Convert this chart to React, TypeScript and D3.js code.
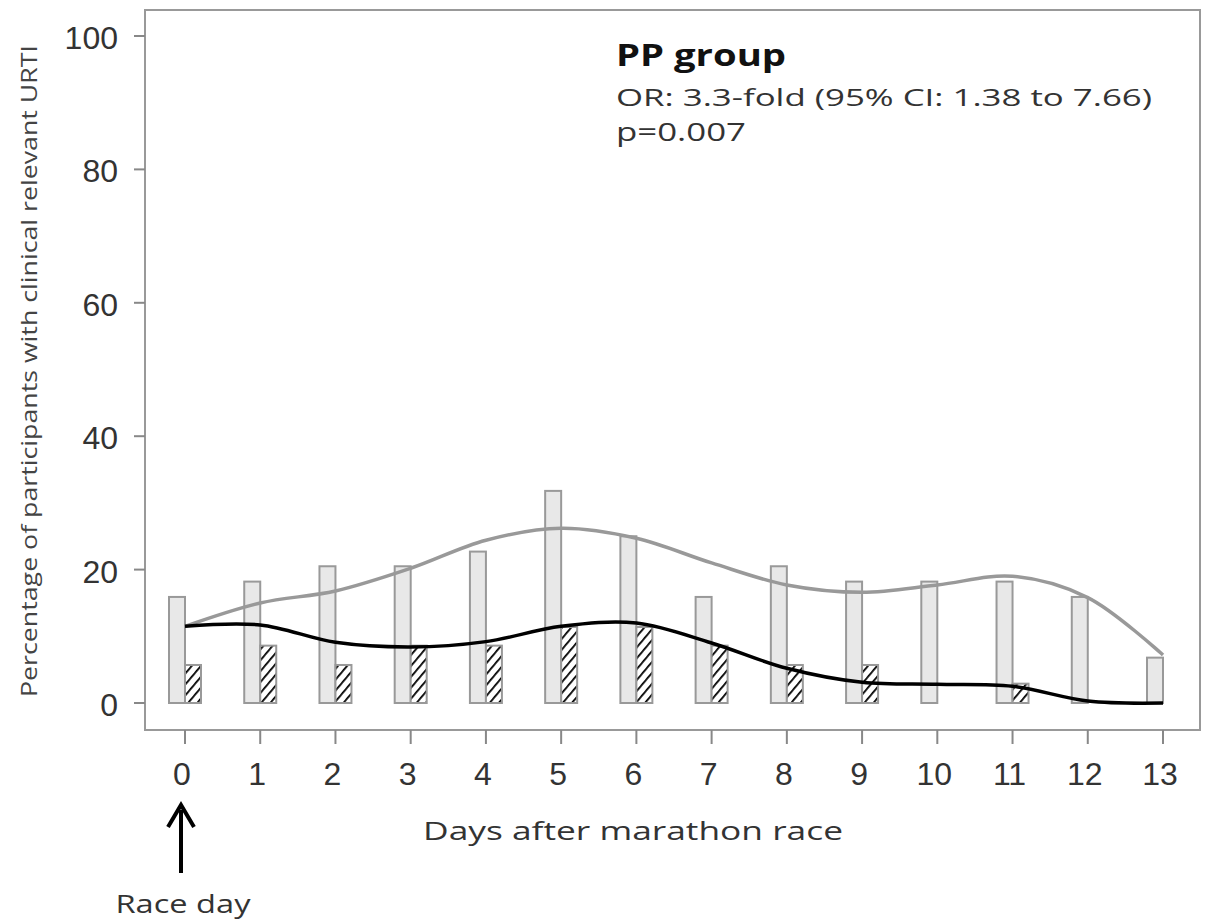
import React from "react";
import * as d3 from "d3";

const days = [0, 1, 2, 3, 4, 5, 6, 7, 8, 9, 10, 11, 12, 13];
const barsGrey = [15.9, 18.2, 20.5, 20.5, 22.7, 31.8, 25.0, 15.9, 20.5, 18.2, 18.2, 18.2, 15.9, 6.8];
const barsHatched: (number | null)[] = [5.7, 8.6, 5.7, 8.6, 8.6, 11.4, 11.4, 8.6, 5.7, 5.7, 0, 2.9, 0, null];
const lineGrey = [11.5, 15.0, 16.8, 20.2, 24.4, 26.2, 24.7, 21.0, 17.7, 16.6, 17.7, 19.0, 15.8, 7.2];
const lineBlack = [11.5, 11.7, 9.1, 8.4, 9.2, 11.5, 12.0, 9.0, 5.2, 3.1, 2.8, 2.5, 0.3, 0];
const yTicks = [0, 20, 40, 60, 80, 100];

export default function App() {
  const W = 1205, H = 921;
  const x = d3.scaleLinear().domain([0, 13]).range([185, 1163]);
  const y = d3.scaleLinear().domain([0, 100]).range([703, 36]);
  const bw = 16;
  const frame = { l: 145, t: 10, r: 1200, b: 730 };

  const lineGen = d3
    .line<number>()
    .x((_, i) => x(days[i]))
    .y((v) => y(v))
    .curve(d3.curveCatmullRom.alpha(0.5));

  return (
    <svg width={W} height={H} style={{ position: "absolute", left: 0, top: 0, background: "#fff" }}>
      <defs>
        <pattern id="hatch" patternUnits="userSpaceOnUse" width="7" height="7" patternTransform="rotate(40)">
          <rect width="7" height="7" fill="#fff" />
          <line x1="0" y1="0" x2="0" y2="7" stroke="#000" strokeWidth="3.6" />
        </pattern>
      </defs>
      <rect x={0} y={0} width={W} height={H} fill="#fff" />
      {/* frame */}
      <rect
        x={frame.l}
        y={frame.t}
        width={frame.r - frame.l}
        height={frame.b - frame.t}
        fill="none"
        stroke="#999"
        strokeWidth={2}
      />
      {/* y ticks */}
      {yTicks.map((t) => (
        <g key={"y" + t}>
          <line x1={134} x2={frame.l} y1={y(t)} y2={y(t)} stroke="#888" strokeWidth={2} />
          <text
            x={118}
            y={y(t) + 13}
            textAnchor="end"
            fontFamily="Liberation Sans, Arial, sans-serif"
            fontSize={32}
            fill="#333"
          >
            {t}
          </text>
        </g>
      ))}
      {/* x ticks */}
      {days.map((d) => (
        <g key={"x" + d}>
          <line x1={x(d)} x2={x(d)} y1={frame.b} y2={744} stroke="#888" strokeWidth={2} />
          <text
            x={x(d) - 3}
            y={785}
            textAnchor="middle"
            fontFamily="Liberation Sans, Arial, sans-serif"
            fontSize={32}
            fill="#333"
          >
            {d}
          </text>
        </g>
      ))}
      {/* grey bars */}
      {days.map((d, i) => (
        <rect
          key={"g" + d}
          x={x(d) - bw}
          y={y(barsGrey[i])}
          width={bw}
          height={y(0) - y(barsGrey[i])}
          fill="#e8e8e8"
          stroke="#999"
          strokeWidth={2}
        />
      ))}
      {/* hatched bars */}
      {days.map((d, i) => {
        const v = barsHatched[i];
        if (v === null) return null;
        return (
          <rect
            key={"h" + d}
            x={x(d)}
            y={y(v)}
            width={bw}
            height={y(0) - y(v)}
            fill="url(#hatch)"
            stroke="#999"
            strokeWidth={2}
          />
        );
      })}
      {/* lines */}
      <path d={lineGen(lineGrey) || ""} fill="none" stroke="#999" strokeWidth={3.5} />
      <path d={lineGen(lineBlack) || ""} fill="none" stroke="#000" strokeWidth={3.5} />
      {/* annotation */}
      <text
        x={616}
        y={66}
        fontFamily="Open Sans, sans-serif"
        fontWeight="bold"
        fontSize={30}
        fill="#111"
        textLength={170}
        lengthAdjust="spacingAndGlyphs"
      >
        PP group
      </text>
      <text
        x={616}
        y={106}
        fontFamily="Open Sans, sans-serif"
        fontSize={24}
        fill="#333"
        textLength={536}
        lengthAdjust="spacingAndGlyphs"
      >
        OR: 3.3-fold (95% CI: 1.38 to 7.66)
      </text>
      <text
        x={616}
        y={141}
        fontFamily="Open Sans, sans-serif"
        fontSize={25}
        fill="#333"
        textLength={130}
        lengthAdjust="spacingAndGlyphs"
      >
        p=0.007
      </text>
      {/* y title */}
      <text
        transform="translate(37,371) rotate(-90)"
        textAnchor="middle"
        fontFamily="Open Sans, sans-serif"
        fontSize={21}
        fill="#444"
        textLength={652}
        lengthAdjust="spacingAndGlyphs"
      >
        Percentage of participants with clinical relevant URTI
      </text>
      {/* x title */}
      <text
        x={633}
        y={840}
        textAnchor="middle"
        fontFamily="Open Sans, sans-serif"
        fontSize={25}
        fill="#333"
        textLength={420}
        lengthAdjust="spacingAndGlyphs"
      >
        Days after marathon race
      </text>
      {/* race day arrow */}
      <line x1={181} x2={181} y1={873} y2={810} stroke="#000" strokeWidth={4} />
      <path d="M168,827 L181,805 L194,827" fill="none" stroke="#000" strokeWidth={4} />
      <text
        x={183}
        y={913}
        textAnchor="middle"
        fontFamily="Open Sans, sans-serif"
        fontSize={25}
        fill="#333"
        textLength={135}
        lengthAdjust="spacingAndGlyphs"
      >
        Race day
      </text>
    </svg>
  );
}
